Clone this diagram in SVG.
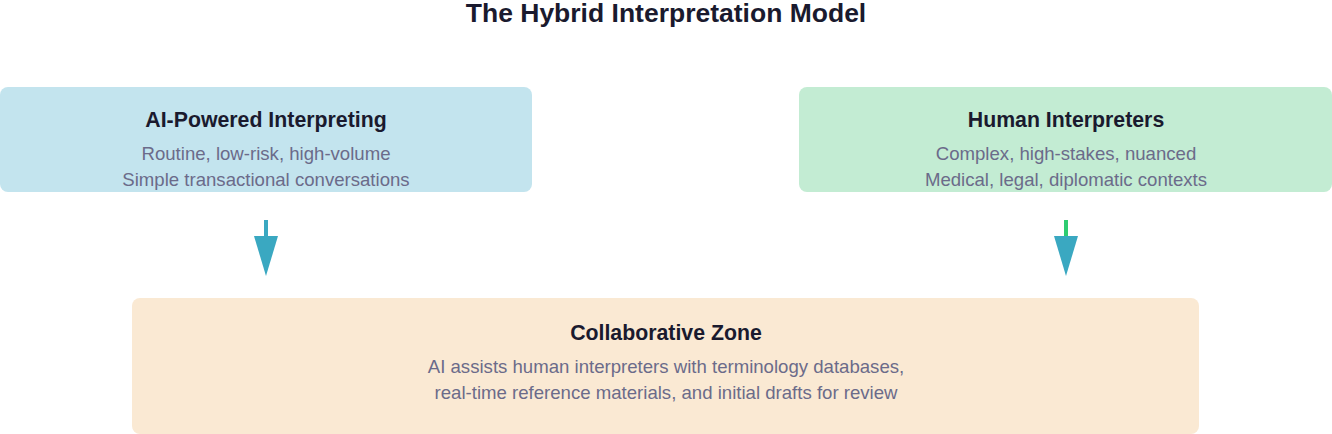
<svg xmlns="http://www.w3.org/2000/svg" width="1332" height="434" viewBox="0 0 1332 434">
<style>
.title{font-family:"Liberation Sans",Arial,sans-serif;font-weight:bold;font-size:26.5px;fill:#1a1a2e;text-anchor:middle}
.h{font-family:"Liberation Sans",Arial,sans-serif;font-weight:bold;font-size:21.3px;fill:#1a1a2e;text-anchor:middle}
.s{font-family:"Liberation Sans",Arial,sans-serif;font-size:18.6px;fill:#6b6b8a;text-anchor:middle}
</style>
<rect width="1332" height="434" fill="#ffffff"/>
<text class="title" x="666" y="22">The Hybrid Interpretation Model</text>
<g id="ai">
<rect x="0" y="87" width="532" height="105" rx="8" fill="#c3e4ee"/>
<text class="h" x="266" y="127">AI-Powered Interpreting</text>
<text class="s" x="266" y="160">Routine, low-risk, high-volume</text>
<text class="s" x="266" y="186">Simple transactional conversations</text>
</g>
<g id="human">
<rect x="799" y="87" width="533" height="105" rx="8" fill="#c3ecd3"/>
<text class="h" x="1066" y="127">Human Interpreters</text>
<text class="s" x="1066" y="160">Complex, high-stakes, nuanced</text>
<text class="s" x="1066" y="186">Medical, legal, diplomatic contexts</text>
</g>
<g id="collab">
<rect x="132" y="298" width="1067" height="136" rx="8" fill="#fae9d3"/>
<text class="h" x="666" y="340">Collaborative Zone</text>
<text class="s" x="666" y="373">AI assists human interpreters with terminology databases,</text>
<text class="s" x="666" y="399">real-time reference materials, and initial drafts for review</text>
</g>
<g id="connectors">
<line x1="266" y1="220" x2="266" y2="237" stroke="#3aa8c1" stroke-width="4"/>
<path d="M254,236 L278,236 L266,276 Z" fill="#3aa8c1"/>
<line x1="1066" y1="220" x2="1066" y2="237" stroke="#2ecc71" stroke-width="4"/>
<path d="M1054,236 L1078,236 L1066,276 Z" fill="#3aa8c1"/>
</g>
</svg>
